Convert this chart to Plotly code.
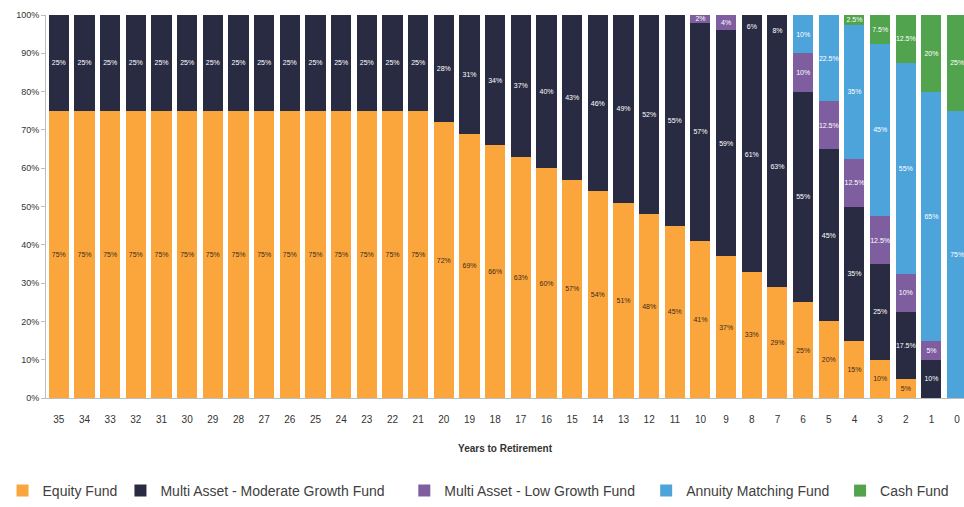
import plotly.graph_objects as go

# Years to retirement, left to right
years = ["35", "34", "33", "32", "31", "30", "29", "28", "27", "26", "25", "24",
         "23", "22", "21", "20", "19", "18", "17", "16", "15", "14", "13", "12",
         "11", "10", "9", "8", "7", "6", "5", "4", "3", "2", "1", "0"]

# Allocation (%) per fund for each year
equity = [75] * 15 + [72, 69, 66, 63, 60, 57, 54, 51, 48, 45, 41, 37, 33, 29, 25,
                      20, 15, 10, 5, 0, 0]
moderate = [25] * 15 + [28, 31, 34, 37, 40, 43, 46, 49, 52, 55, 57, 59, 61, 63, 55,
                        45, 35, 25, 17.5, 10, 0]
low_growth = [0] * 25 + [2, 4, 6, 8, 10, 12.5, 12.5, 12.5, 10, 5, 0]
annuity = [0] * 29 + [10, 22.5, 35, 45, 55, 65, 75]
cash = [0] * 31 + [2.5, 7.5, 12.5, 20, 25]

# y-axis tick values and labels
y_ticks = list(range(0, 101, 10))
y_tick_labels = [f"{v}%" for v in y_ticks]

names = ["Equity Fund", "Multi Asset - Moderate Growth Fund",
         "Multi Asset - Low Growth Fund", "Annuity Matching Fund", "Cash Fund"]
series = [equity, moderate, low_growth, annuity, cash]

ORANGE = "#FBA63D"
NAVY = "#292B42"
PURPLE = "#7F5EA0"
BLUE = "#4DA4DB"
GREEN = "#52A34D"
base_colors = [ORANGE, NAVY, PURPLE, BLUE, GREEN]
text_colors = ["#3B2A18", "white", "white", "white", "white"]

# Low-growth slices in years 8 and 7 are shown in the moderate-growth colour
low_colors = [NAVY if y in ("8", "7") else PURPLE for y in years]

L, R_EDGE, TOP, BOTTOM = 45.5, 964, 15, 398
W, H = 964, 507
plot_w = R_EDGE - L
plot_h = BOTTOM - TOP

fig = go.Figure()
legend_px = [2, 120, 404, 646, 840]
for i, (name, vals) in enumerate(zip(names, series)):
    colors = low_colors if i == 2 else base_colors[i]
    fig.add_trace(go.Bar(
        x=years,
        y=[v if v else None for v in vals],
        name=name,
        marker=dict(color=colors, line=dict(width=0)),
        text=[f"{v:g}%" if v else "" for v in vals],
        textposition="inside",
        insidetextanchor="middle",
        textangle=0,
        textfont=dict(size=7, color=text_colors[i], family="Liberation Sans"),
        legend="legend" if i == 0 else f"legend{i + 1}",
        showlegend=True,
        hoverinfo="skip",
    ))

layout_legends = {}
for i, px in enumerate(legend_px):
    key = "legend" if i == 0 else f"legend{i + 1}"
    layout_legends[key] = dict(
        x=(px - L) / plot_w, xanchor="left",
        y=(BOTTOM - 491) / plot_h, yanchor="middle",
        orientation="h",
        font=dict(size=14, color="#404040", family="Liberation Sans"),
        bgcolor="rgba(0,0,0,0)",
    )

slot = 25.68
fig.update_layout(
    width=W, height=H,
    barmode="stack",
    bargap=0.22,
    showlegend=True,
    plot_bgcolor="white",
    paper_bgcolor="white",
    margin=dict(l=L, r=0, t=TOP, b=H - BOTTOM),
    uniformtext=dict(minsize=7, mode="show"),
    **layout_legends,
)
fig.update_xaxes(
    type="category",
    range=[-0.5, -0.5 + plot_w / slot],
    showline=True, linecolor="#BDBDBD", linewidth=1,
    ticks="", ticklabelstandoff=12,
    tickfont=dict(size=10, color="#333333", family="Liberation Sans"),
    title=dict(text="<b>Years to Retirement</b>", standoff=20,
               font=dict(size=10, color="#333333", family="Liberation Sans")),
)
fig.update_yaxes(
    range=[0, 100],
    tickmode="array",
    tickvals=y_ticks,
    ticktext=y_tick_labels,
    showgrid=False,
    showline=True, linecolor="#BDBDBD", linewidth=1,
    ticks="outside", ticklen=4, tickcolor="#BDBDBD",
    tickfont=dict(size=9, color="#333333", family="Liberation Sans"),
    zeroline=False,
)

fig.write_html("out.html")
